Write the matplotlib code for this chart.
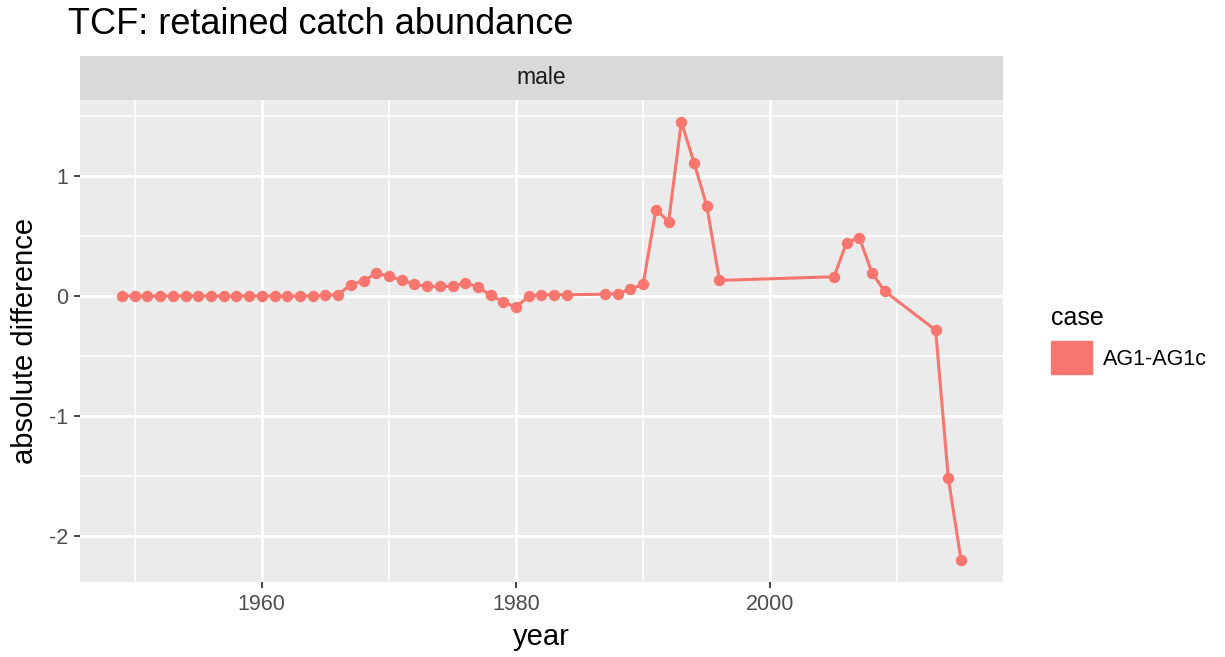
# TCF retained catch abundance: AG1 - AG1c (male)

import numpy as np
import matplotlib.pyplot as plt
from matplotlib.patches import Patch

plt.rcParams['font.family'] = ['Liberation Sans', 'DejaVu Sans']
plt.rcParams['axes.unicode_minus'] = False

years = list(range(1949, 1985)) + list(range(1987, 1997)) + list(range(2005, 2010)) + [2013, 2014, 2015]
diff = ([0.0] * 16 +
        [0.005, 0.01, 0.095, 0.125, 0.19, 0.165, 0.13, 0.10, 0.08, 0.08, 0.08, 0.11, 0.075,
         0.005, -0.05, -0.095, 0.0, 0.01, 0.01, 0.01] +
        [0.015, 0.02, 0.055, 0.10, 0.72, 0.62, 1.45, 1.11, 0.75, 0.13] +
        [0.16, 0.445, 0.485, 0.19, 0.04] +
        [-0.285, -1.52, -2.2])
xticks = [1960, 1980, 2000]
xminor = [1950, 1970, 1990, 2010]
yticks = [-2, -1, 0, 1]
yminor = [-1.5, -0.5, 0.5, 1.5]
col = '#F8766D'

fig = plt.figure(figsize=(12.25, 6.57), dpi=100)
ax = fig.add_axes([80/1225, 1-582/657, 923/1225, 482/657])
ax.set_facecolor('#EBEBEB')

x = np.array(years); y = np.array(diff)
xr = x.max() - x.min(); yr = y.max() - y.min()
ax.set_xlim(x.min() - 0.05*xr, x.max() + 0.05*xr)
ax.set_ylim(y.min() - 0.05*yr, y.max() + 0.05*yr)

ax.set_xticks(xticks); ax.set_xticks(xminor, minor=True)
ax.set_yticks(yticks); ax.set_yticks(yminor, minor=True)
ax.grid(which='major', color='white', lw=2.2)
ax.grid(which='minor', color='white', lw=1.1)
ax.set_axisbelow(True)
for s in ax.spines.values():
    s.set_visible(False)
ax.tick_params(which='major', length=4.5, width=1.3, color='#333333',
               labelcolor='#4D4D4D', labelsize=15.5, pad=4)
ax.tick_params(which='minor', length=0)

ax.plot(x, y, color=col, lw=2.2, marker='o', ms=7.2, mec=col, mfc=col)

ax.set_xlabel('year', fontsize=21, color='black', labelpad=6)
ax.set_ylabel('absolute difference', fontsize=21, color='black', labelpad=7)

# facet strip
strip = fig.add_axes([80/1225, 1-100/657, 923/1225, 44/657])
strip.set_facecolor('#D9D9D9')
strip.set_xticks([]); strip.set_yticks([])
for s in strip.spines.values():
    s.set_visible(False)
strip.text(0.5, 0.5, 'male', ha='center', va='center', fontsize=16.5, color='#1A1A1A')

fig.text(68/1225, 1-25/657, 'TCF: retained catch abundance', ha='left', va='center',
         fontsize=26, color='black')

leg = fig.legend(handles=[Patch(facecolor=col, edgecolor=col)], labels=['AG1-AG1c'],
                 title='case', loc='upper left', bbox_to_anchor=(1032/1225, 1-287/657),
                 frameon=False, fontsize=15.5, title_fontsize=18,
                 handlelength=1.9, handleheight=2.0, handletextpad=0.5, alignment='left')

fig.savefig('out.png', dpi=100)
